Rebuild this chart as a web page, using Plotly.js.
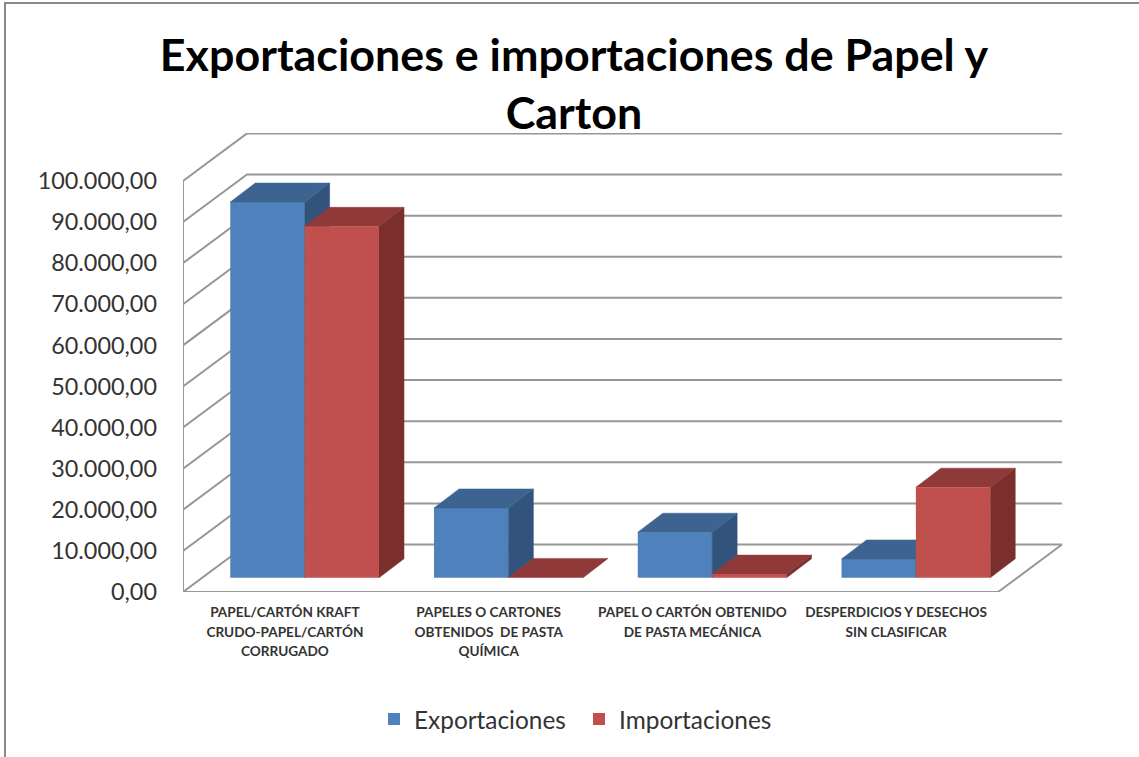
<!DOCTYPE html>
<html>
<head>
<meta charset="utf-8">
<script src="https://cdn.plot.ly/plotly-3.0.1.min.js"></script>
<style>
html,body{margin:0;padding:0;background:#fff;overflow:hidden}
#chart{position:absolute;left:0;top:0;width:1139px;height:757px}
#frame{position:absolute;left:4px;top:2px;right:0;bottom:0;border-left:2px solid #8a8a8a;border-top:2px solid #8a8a8a;pointer-events:none;z-index:5}
</style>
</head>
<body>
<div id="chart"></div>
<div id="frame"></div>
<script>
const categories = [
  "PAPEL/CARTÓN KRAFT<br>CRUDO-PAPEL/CARTÓN<br>CORRUGADO",
  "PAPELES O CARTONES<br>OBTENIDOS  DE PASTA<br>QUÍMICA",
  "PAPEL O CARTÓN OBTENIDO<br>DE PASTA MECÁNICA",
  "DESPERDICIOS Y DESECHOS<br>SIN CLASIFICAR"
];
const exportaciones = [91400, 17000, 11100, 4600];
const importaciones = [85500, 100, 900, 22050];
const yTickVals = [0,10000,20000,30000,40000,50000,60000,70000,80000,90000,100000];
const yTickText = ["0,00","10.000,00","20.000,00","30.000,00","40.000,00","50.000,00","60.000,00","70.000,00","80.000,00","90.000,00","100.000,00"];

// Oblique-projection parameters, in axis units
const X_MAX = 3.819, Y_MAX = 111650;
const WALL_DX = 0.314, WALL_DY = 11550;   // back wall offset from front plane
const BAR_DX = 0.1227, BAR_DY = 4620;     // bar depth
const SHIFT_X = 0.097, SHIFT_Y = 3450;    // bars' front plane offset from chart's front plane
const BARGAP = 0.27, HALF = (1 - BARGAP) / 2;

const GRID = '#979797';
const FONT = 'Lato, sans-serif';
const idx = categories.map((_, i) => i);
const catLabels = categories.map(c => c.split('<br>').map(l => '<span style="font-size:13.6px">' + l + '</span>').join('<br>'));
const traces = [];

// Walls and floor
yTickVals.forEach(v => {
  traces.push({type:'scatter',mode:'lines',x:[-0.5,-0.5+WALL_DX,3.5+WALL_DX],y:[v,v+WALL_DY,v+WALL_DY],
    line:{color:GRID,width:2},hoverinfo:'skip',showlegend:false,cliponaxis:false});
});
traces.push({type:'scatter',mode:'lines',x:[-0.5,-0.5,3.5,3.5+WALL_DX],y:[100000,0,0,WALL_DY],
  line:{color:GRID,width:2},hoverinfo:'skip',showlegend:false,cliponaxis:false});

function faces(vals, left, colorTop, colorSide, z) {
  const tx=[],ty=[],sx=[],sy=[];
  vals.forEach((v,i)=>{
    const x0=i+left, x1=x0+HALF;
    tx.push(x0,x1,x1+BAR_DX,x0+BAR_DX,x0,null); ty.push(v,v,v+BAR_DY,v+BAR_DY,v,null);
    sx.push(x1,x1+BAR_DX,x1+BAR_DX,x1,x1,null); sy.push(0,BAR_DY,v+BAR_DY,v,0,null);
  });
  const base={type:'scatter',mode:'lines',fill:'toself',xaxis:'x2',yaxis:'y2',hoverinfo:'skip',showlegend:false,zorder:z,cliponaxis:false};
  traces.push(Object.assign({},base,{x:sx,y:sy,fillcolor:colorSide,line:{color:colorSide,width:0.5}}));
  traces.push(Object.assign({},base,{x:tx,y:ty,fillcolor:colorTop,line:{color:colorTop,width:0.5}}));
}
traces.push({type:'bar',name:'Exportaciones',x:idx,y:exportaciones,xaxis:'x2',yaxis:'y2',marker:{color:'#4F81BD'},zorder:1,hoverinfo:'skip'});
faces(exportaciones,-HALF,'#3D6491','#32537C',2);
faces(importaciones,0,'#8F3A38','#7A2F2D',3);
traces.push({type:'bar',name:'Importaciones',x:idx,y:importaciones,xaxis:'x2',yaxis:'y2',marker:{color:'#C0504D'},zorder:4,hoverinfo:'skip'});

const layout = {
  width:1139,height:757,
  margin:{l:183,r:76,t:133,b:164.5,pad:0},
  paper_bgcolor:'#fff',plot_bgcolor:'rgba(0,0,0,0)',
  barmode:'group',bargap:BARGAP,bargroupgap:0,
  title:{text:'<b>Exportaciones e importaciones de Papel y<br>Carton</b>',font:{family:FONT,size:44.8,color:'#000'},
    xref:'container',x:574/1139,xanchor:'center',yref:'container',y:1-71/757,yanchor:'top'},
  xaxis:{type:'linear',range:[-0.5,X_MAX],tickmode:'array',tickvals:idx,ticktext:catLabels,tickangle:0,
    showgrid:false,zeroline:false,showline:false,ticks:'',ticklabelstandoff:9,
    tickfont:{family:FONT,size:15,color:'#333',weight:'bold'}},
  yaxis:{type:'linear',range:[0,Y_MAX],tickmode:'array',tickvals:yTickVals,ticktext:yTickText,
    showgrid:false,zeroline:false,showline:false,ticks:'',ticklabelstandoff:25,
    tickfont:{family:FONT,size:23.4,color:'#333'}},
  xaxis2:{type:'linear',overlaying:'x',range:[-0.5-SHIFT_X,X_MAX-SHIFT_X],visible:false},
  yaxis2:{type:'linear',overlaying:'y',range:[-SHIFT_Y,Y_MAX-SHIFT_Y],visible:false},
  legend:{orientation:'h',x:0.45,xanchor:'center',y:-0.277,yanchor:'middle',entrywidth:160,entrywidthmode:'pixels',
    font:{family:FONT,size:24.4,color:'#333'},traceorder:'normal'},
  showlegend:true
};
Plotly.newPlot('chart',traces,layout,{displayModeBar:false,responsive:false,staticPlot:true});
</script>
</body>
</html>
